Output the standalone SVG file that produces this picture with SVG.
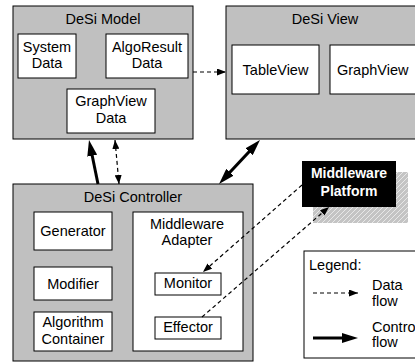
<svg xmlns="http://www.w3.org/2000/svg" width="415" height="362" viewBox="0 0 415 362">
  <style>
    .pkg { fill: #c0c0c0; stroke: #000; stroke-width: 1; }
    .box { fill: #fff; stroke: #000; stroke-width: 1; }
    text { font-family: "Liberation Sans", Arial, sans-serif; font-size: 14.5px; fill: #000; }
    .mid { text-anchor: middle; }
    .plat { font-weight: bold; font-size: 14px; fill: #fff; }
    .data { fill: none; stroke: #000; stroke-width: 1.2; stroke-dasharray: 4 3; }
    .ctrl { fill: none; stroke: #000; stroke-width: 3; }
  </style>
  <defs>
    <!-- small head for data-flow (dashed) links -->
    <marker id="dataHead" viewBox="0 0 9 7" refX="9" refY="3.5" markerWidth="9" markerHeight="7" markerUnits="userSpaceOnUse" orient="auto-start-reverse">
      <path d="M0,0 L9,3.5 L0,7 z" fill="#000"/>
    </marker>
    <!-- large head for control-flow links; tip sits 8px past the line end -->
    <marker id="ctrlHead" viewBox="0 0 16 10" refX="8" refY="5" markerWidth="16" markerHeight="10" markerUnits="userSpaceOnUse" orient="auto-start-reverse">
      <path d="M0,0 L16,5 L0,10 z" fill="#000"/>
    </marker>
    <pattern id="hatch" patternUnits="userSpaceOnUse" width="5" height="5">
      <rect width="5" height="5" fill="#c4c4c4"/>
      <path d="M0,5 L5,0 M-1,1 L1,-1 M4,6 L6,4" stroke="#ececec" stroke-width="0.9"/>
    </pattern>
  </defs>

  <!-- DeSi Model package -->
  <g id="desi-model">
    <rect class="pkg" x="13" y="6" width="180" height="133"/>
    <text class="mid" x="103" y="24">DeSi Model</text>
    <g id="system-data">
      <rect class="box" x="18" y="34" width="58" height="44"/>
      <text class="mid" x="47" y="52">System</text>
      <text class="mid" x="47" y="68">Data</text>
    </g>
    <g id="algoresult-data">
      <rect class="box" x="106" y="34" width="82" height="44"/>
      <text class="mid" x="147" y="52">AlgoResult</text>
      <text class="mid" x="147" y="68">Data</text>
    </g>
    <g id="graphview-data">
      <rect class="box" x="67" y="89" width="88" height="44"/>
      <text class="mid" x="111" y="106">GraphView</text>
      <text class="mid" x="111" y="123">Data</text>
    </g>
  </g>

  <!-- DeSi View package -->
  <g id="desi-view">
    <rect class="pkg" x="226" y="6" width="200" height="133"/>
    <text class="mid" x="325" y="24">DeSi View</text>
    <g id="tableview">
      <rect class="box" x="232" y="45" width="87" height="49"/>
      <text class="mid" x="275.5" y="75">TableView</text>
    </g>
    <g id="graphview">
      <rect class="box" x="330" y="45" width="100" height="49"/>
      <text x="337" y="75">GraphView</text>
    </g>
  </g>

  <!-- DeSi Controller package -->
  <g id="desi-controller">
    <rect class="pkg" x="13" y="184" width="240" height="177"/>
    <text class="mid" x="133" y="202">DeSi Controller</text>
    <g id="generator">
      <rect class="box" x="34" y="212" width="78" height="38"/>
      <text class="mid" x="73" y="236">Generator</text>
    </g>
    <g id="modifier">
      <rect class="box" x="34" y="267" width="78" height="33"/>
      <text class="mid" x="73" y="288.5">Modifier</text>
    </g>
    <g id="algorithm-container">
      <rect class="box" x="34" y="312" width="78" height="39"/>
      <text class="mid" x="73" y="327">Algorithm</text>
      <text class="mid" x="73" y="343.5">Container</text>
    </g>
    <g id="middleware-adapter">
      <rect class="box" x="133" y="212" width="110" height="139"/>
      <text class="mid" x="187" y="229">Middleware</text>
      <text class="mid" x="187" y="245">Adapter</text>
      <g id="monitor">
        <rect class="box" x="155" y="273" width="66" height="22"/>
        <text class="mid" x="188" y="288">Monitor</text>
      </g>
      <g id="effector">
        <rect class="box" x="155" y="317" width="66" height="22"/>
        <text class="mid" x="188" y="332">Effector</text>
      </g>
    </g>
  </g>

  <!-- Middleware Platform with hatched drop shadow -->
  <g id="middleware-platform">
    <rect x="313" y="172" width="95" height="51" fill="url(#hatch)"/>
    <rect x="302" y="161" width="94" height="46" fill="#000"/>
    <text class="mid plat" x="349" y="178">Middleware</text>
    <text class="mid plat" x="349" y="196">Platform</text>
  </g>

  <!-- Legend -->
  <g id="legend">
    <rect class="box" x="304" y="251" width="130" height="107"/>
    <text x="309" y="270">Legend:</text>
    <text x="372" y="290">Data</text>
    <text x="372" y="305.5">flow</text>
    <text x="372" y="332">Control</text>
    <text x="372" y="347">flow</text>
  </g>

  <!-- Connectors -->
  <g id="connectors">
    <path class="data" d="M193,72 L226,72" marker-end="url(#dataHead)"/>
    <path class="ctrl" d="M98,184 L90.6,147.8" marker-end="url(#ctrlHead)"/>
    <path class="data" d="M115,140 L119,184" marker-start="url(#dataHead)" marker-end="url(#dataHead)"/>
    <path class="ctrl" d="M224.5,178.1 L254.5,145.9" marker-start="url(#ctrlHead)" marker-end="url(#ctrlHead)"/>
    <path class="data" d="M302,185 L203,272" marker-end="url(#dataHead)"/>
    <path class="data" d="M202,317 L329,207" marker-end="url(#dataHead)"/>
    <path class="data" d="M313,293 L358,293" marker-end="url(#dataHead)"/>
    <path class="ctrl" d="M313,338 L350,338" marker-end="url(#ctrlHead)"/>
  </g>
</svg>
